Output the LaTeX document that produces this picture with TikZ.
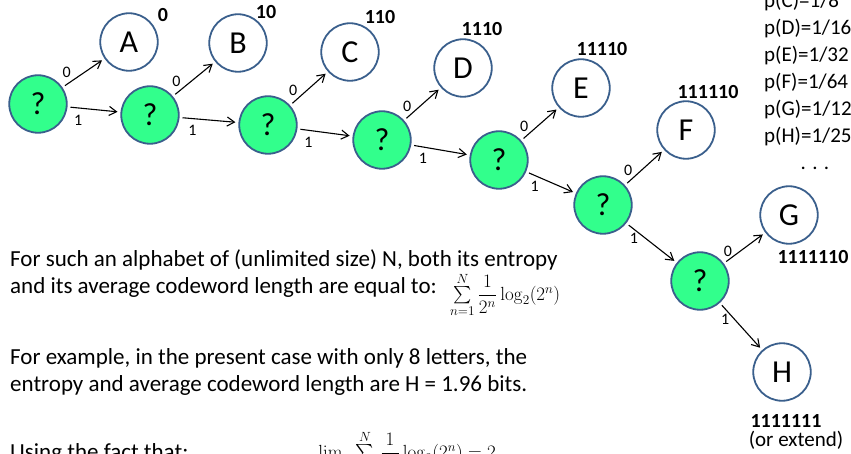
\RequirePackage{fix-cm}
\documentclass[tikz,border=0pt]{standalone}
\usepackage{amsmath}
\usepackage[no-math]{fontspec}
\setmainfont{Carlito}
\usetikzlibrary{arrows.meta}

\definecolor{ringblue}{RGB}{58,95,140}
\definecolor{quesgreen}{RGB}{50,255,140}

\begin{document}
\begin{tikzpicture}[x=1pt,y=-1pt,
  every node/.style={font=\fontsize{23}{27}\selectfont},
  leaf/.style={draw=ringblue,circle,line width=1.8pt,minimum size=57.5pt,inner sep=0pt,font=\fontsize{32}{36}\selectfont},
  ques/.style={leaf,fill=quesgreen},
  code/.style={font=\fontsize{20}{24}\selectfont\bfseries,inner sep=0pt},
  prob/.style={anchor=base west,inner sep=0pt,font=\fontsize{21}{25}\selectfont},
  bit/.style={font=\fontsize{16}{19}\selectfont,inner sep=1pt},
  txt/.style={anchor=base west,inner sep=0pt},
  link/.style={-{Straight Barb[length=2.6mm,width=3.2mm]},line width=1.1pt,shorten <=3pt,shorten >=3pt}]
\useasboundingbox (0,0) rectangle (851,454);
\clip (0,0) rectangle (851,454);

% decision nodes
\node[ques] (q1) at (38,104) {?};
\node[ques] (q2) at (150,115) {?};
\node[ques] (q3) at (268,125) {?};
\node[ques] (q4) at (382,140) {?};
\node[ques] (q5) at (499,160) {?};
\node[ques] (q6) at (603,205) {?};
\node[ques] (q7) at (700,281) {?};

% letters
\node[leaf] (a) at (129,42) {A};
\node[leaf] (b) at (238,43) {B};
\node[leaf] (c) at (350,52) {C};
\node[leaf] (d) at (463,68) {D};
\node[leaf] (e) at (581,88) {E};
\node[leaf] (f) at (686,130) {F};
\node[leaf] (g) at (789,215) {G};
\node[leaf] (h) at (782,372) {H};

% codewords
\node[code] (ca) at (163,15) {0};
\node[code] (cb) at (266,12) {10};
\node[code] (cc) at (380,17) {110};
\node[code] (cd) at (482,29) {1110};
\node[code] (ce) at (602,49) {11110};
\node[code] (cf) at (708,92) {111110};
\node[code] (cg) at (813,257) {1111110};
\node[code] (ch) at (786,421) {1111111};
\node[inner sep=0pt,font=\fontsize{21}{25}\selectfont] (ext) at (796,440) {(or extend)};

% branches
\draw[link] (q1) -- node[bit,pos=.1,above=5pt]{0} (a);
\draw[link] (q1) -- node[bit,pos=.2,below=6pt]{1} (q2);
\draw[link] (q2) -- node[bit,pos=.08,above=5pt]{0} (b);
\draw[link] (q2) -- node[bit,pos=.22,below=5pt]{1} (q3);
\draw[link] (q3) -- node[bit,pos=.08,above=5pt]{0} (c);
\draw[link] (q3) -- node[bit,pos=.2,below=5pt]{1} (q4);
\draw[link] (q4) -- node[bit,pos=.08,above=5pt]{0} (d);
\draw[link] (q4) -- node[bit,pos=.2,below=5pt]{1} (q5);
\draw[link] (q5) -- node[bit,pos=.08,above=5pt]{0} (e);
\draw[link] (q5) -- node[bit,pos=.17,below=4pt]{1} (q6);
\draw[link] (q6) -- node[bit,pos=.08,above=5pt]{0} (f);
\draw[link] (q6) -- node[bit,pos=.15,below=2pt]{1} (q7);
\draw[link] (q7) -- node[bit,pos=.1,above=2pt]{0} (g);
\draw[link] (q7) -- node[bit,pos=.35,left=4pt]{1} (h);

% probabilities
\node[prob] (pc) at (764,8) {p(C)=1/8};
\node[prob] (pd) at (764,35) {p(D)=1/16};
\node[prob] (pe) at (764,62) {p(E)=1/32};
\node[prob] (pf) at (764,89) {p(F)=1/64};
\node[prob] (pg) at (764,116) {p(G)=1/128};
\node[prob] (ph) at (764,143) {p(H)=1/256};
\node[inner sep=0pt,font=\fontsize{21}{25}\selectfont] (dots) at (815,168) {. . .};

% explanation
\node[txt] (l1) at (10,267) {For such an alphabet of (unlimited size) N, both its entropy};
\node[txt] (l2) at (10,294) {and its average codeword length are equal to:};
\node[anchor=base west,inner sep=0pt,font=\fontsize{19}{23}\selectfont] (sum1) at (450,300)
  {$\sum\limits_{n=1}^{N}\dfrac{1}{2^n}\log_2(2^n)$};
\node[txt] (l3) at (10,364) {For example, in the present case with only 8 letters, the};
\node[txt] (l4) at (10,391) {entropy and average codeword length are H = 1.96 bits.};
\node[txt] (l5) at (10,459) {Using the fact that:};
\node[anchor=base west,inner sep=0pt,font=\fontsize{19}{23}\selectfont] (sum2) at (311,458)
  {$\lim\limits_{N\to\infty}\sum\limits_{n=1}^{N}\dfrac{1}{2^n}\log_2(2^n)=2$};
\end{tikzpicture}
\end{document}
